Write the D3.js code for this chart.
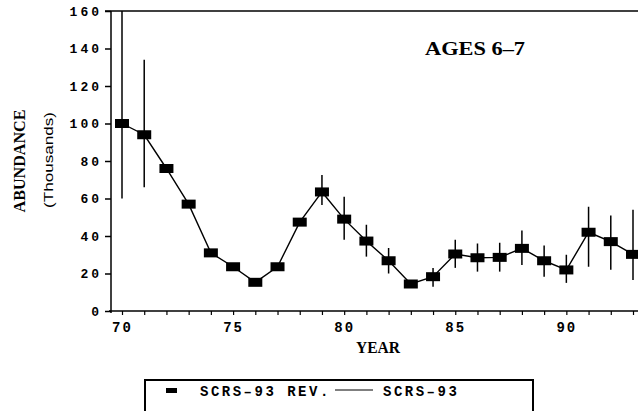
<!DOCTYPE html>
<html><head><meta charset="utf-8">
<script src="https://cdn.jsdelivr.net/npm/d3@7"></script>
<style>body{margin:0;background:#fff}svg{display:block}</style>
</head><body>
<svg id="c" width="638" height="411"></svg>
<script>
const years = [70,71,72,73,74,75,76,77,78,79,80,81,82,83,84,85,86,87,88,89,90,91,92,93];
const abundance = [100,94,76,57,31,23.6,15.3,23.6,47.4,63.5,49,37.3,26.8,14.4,18.3,30.4,28.4,28.6,33.4,26.8,21.9,42,37,30.2];
const upper = [165,134,null,null,null,null,null,null,null,72.5,61,46,33.6,null,23,38,36,36.4,43,35,30,55.6,51,54];
const lower = [60,66,null,null,null,null,null,null,null,56.5,38,29,20,null,13,23,21,21,24.5,18.3,15,23.6,22,16.5];
const yTicks = [0,20,40,60,80,100,120,140,160];
const xLabelTicks = [70,75,80,85,90];
const legendLabels = ["SCRS\u201393 REV.", "SCRS\u201393"];

const svg = d3.select("#c");
const x = d3.scaleLinear().domain([70,93]).range([122,633]);
const y = d3.scaleLinear().domain([0,160]).range([311,11]);
const mono = "'Liberation Mono','DejaVu Sans Mono',monospace";
const serif = "'Liberation Serif','DejaVu Serif',serif";

// frame lines
svg.append("line").attr("x1",105).attr("x2",638).attr("y1",y(160)).attr("y2",y(160)).attr("stroke","#000").attr("stroke-width",1.5);
svg.append("line").attr("x1",111).attr("x2",111).attr("y1",y(160)).attr("y2",y(0)+2).attr("stroke","#000").attr("stroke-width",1.5);
svg.append("line").attr("x1",109).attr("x2",638).attr("y1",y(0)).attr("y2",y(0)).attr("stroke","#000").attr("stroke-width",1.5);

// y axis
const ya = svg.append("g").attr("transform","translate(111,0)")
  .call(d3.axisLeft(y).tickValues(yTicks).tickSize(6).tickPadding(8).tickFormat(d3.format("d")));
ya.select(".domain").remove();
ya.selectAll(".tick line").attr("stroke","#000").attr("stroke-width",1.5);
ya.selectAll(".tick text").attr("font-family",mono).attr("font-size",13).attr("font-weight","bold")
  .attr("letter-spacing",3).attr("fill","#000").attr("dx",5);

// x axis
const xa = svg.append("g").attr("transform","translate(0,"+y(0)+")")
  .call(d3.axisBottom(x).tickValues(years).tickSize(4).tickPadding(7)
    .tickFormat(d => xLabelTicks.includes(d) ? String(d) : ""));
xa.select(".domain").remove();
xa.selectAll(".tick line").attr("stroke","#000").attr("stroke-width",1.2);
xa.selectAll(".tick text").attr("font-family",mono).attr("font-size",14).attr("font-weight","bold")
  .attr("letter-spacing",2).attr("fill","#000");

// error bars
const clipTop = y(160);
years.forEach((yr,i) => {
  if (upper[i] == null) return;
  svg.append("line").attr("x1",x(yr)).attr("x2",x(yr))
    .attr("y1",Math.max(clipTop,y(upper[i]))).attr("y2",y(lower[i]))
    .attr("stroke","#000").attr("stroke-width",1.5);
});

// line
const pts = years.map((yr,i)=>[yr,abundance[i]]);
svg.append("path").datum(pts)
  .attr("d", d3.line().x(d=>x(d[0])).y(d=>y(d[1])))
  .attr("fill","none").attr("stroke","#000").attr("stroke-width",1.4);

// markers
svg.selectAll("rect.m").data(pts).join("rect").attr("class","m")
  .attr("x",d=>x(d[0])-7).attr("y",d=>y(d[1])-4.5).attr("width",14).attr("height",9).attr("fill","#000");

// title
svg.append("text").attr("x",425).attr("y",55).attr("font-family",serif).attr("font-weight","bold")
  .attr("font-size",18).attr("textLength",100).attr("lengthAdjust","spacingAndGlyphs").text("AGES 6\u20137");

// axis titles
svg.append("text").attr("x",378).attr("y",353).attr("text-anchor","middle").attr("font-family",serif)
  .attr("font-weight","bold").attr("font-size",16).attr("textLength",44).attr("lengthAdjust","spacingAndGlyphs").text("YEAR");
svg.append("text").attr("transform","translate(25,161) rotate(-90)").attr("text-anchor","middle")
  .attr("font-family",serif).attr("font-weight","bold").attr("font-size",17)
  .attr("textLength",103).attr("lengthAdjust","spacingAndGlyphs").text("ABUNDANCE");
svg.append("text").attr("transform","translate(53,160) rotate(-90)").attr("text-anchor","middle")
  .attr("font-family","'Liberation Sans',sans-serif").attr("font-size",13)
  .attr("textLength",96).attr("lengthAdjust","spacingAndGlyphs").text("(Thousands)");

// legend
const lg = svg.append("g");
lg.append("rect").attr("x",145).attr("y",380).attr("width",388).attr("height",45)
  .attr("fill","none").attr("stroke","#000").attr("stroke-width",2);
lg.append("rect").attr("x",166).attr("y",388).attr("width",11).attr("height",5).attr("fill","#000");
lg.append("text").attr("x",200).attr("y",396).attr("font-family",mono).attr("font-size",14).attr("font-weight","bold")
  .attr("letter-spacing",2.5).text(legendLabels[0]);
lg.append("line").attr("x1",335).attr("x2",373).attr("y1",390).attr("y2",390).attr("stroke","#000").attr("stroke-width",1.2);
lg.append("text").attr("x",383).attr("y",396).attr("font-family",mono).attr("font-size",14).attr("font-weight","bold")
  .attr("letter-spacing",2.5).text(legendLabels[1]);
</script>
</body></html>
